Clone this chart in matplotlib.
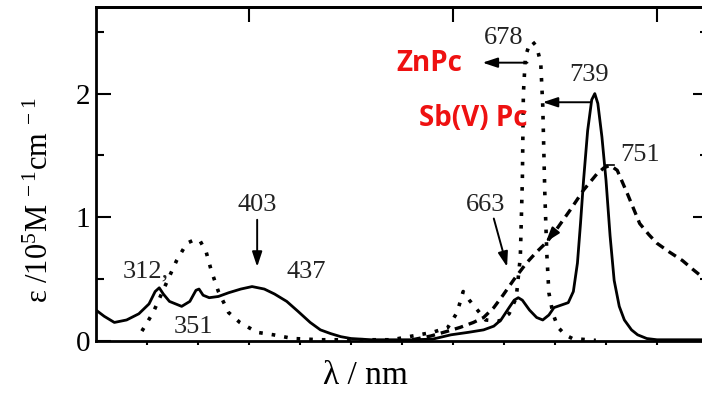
import matplotlib
matplotlib.use("Agg")
import matplotlib.pyplot as plt
import numpy as np

# ---- data ----
sb_wl = [250, 258, 268, 280, 292, 302, 308, 312, 316, 322, 334, 342, 348, 351, 355, 361,
         370, 380, 392, 403, 415, 425, 437, 448, 460, 470, 480, 490, 500, 520, 560, 580,
         598, 615, 630, 640, 647, 655, 660, 664, 668, 675, 682, 688, 694, 699, 706, 713,
         718, 722, 725, 728, 732, 736, 739, 742, 746, 750, 754, 758, 763, 768, 775, 781,
         790, 800, 850]
sb_eps = [0.25, 0.20, 0.15, 0.17, 0.22, 0.30, 0.40, 0.43, 0.38, 0.32, 0.28, 0.32, 0.41, 0.42, 0.37, 0.35,
          0.36, 0.39, 0.42, 0.44, 0.42, 0.38, 0.32, 0.24, 0.15, 0.09, 0.06, 0.035, 0.02, 0.01, 0.01, 0.015,
          0.05, 0.07, 0.09, 0.12, 0.17, 0.27, 0.33, 0.35, 0.33, 0.25, 0.19, 0.17, 0.21, 0.27, 0.29, 0.31,
          0.40, 0.63, 0.95, 1.30, 1.70, 1.95, 2.00, 1.92, 1.65, 1.30, 0.85, 0.49, 0.28, 0.17, 0.09, 0.05,
          0.02, 0.01, 0.01]

zn_wl = [295, 306, 318, 329, 339, 347, 352, 358, 363, 370, 380, 391, 408, 424, 443, 470, 540,
         560, 580, 595, 604, 610, 616, 622, 632, 645, 655, 662, 666, 668, 669, 671, 675, 678,
         682, 686, 688, 690, 692, 694, 698, 703, 710, 717, 740]
zn_eps = [0.08, 0.23, 0.45, 0.65, 0.79, 0.82, 0.81, 0.72, 0.57, 0.40, 0.23, 0.15, 0.07, 0.05, 0.02, 0.01, 0.01,
          0.04, 0.07, 0.11, 0.23, 0.40, 0.33, 0.27, 0.17, 0.16, 0.22, 0.35, 0.68, 1.3, 2.0, 2.3, 2.4, 2.42,
          2.38, 2.25, 1.9, 1.2, 0.7, 0.39, 0.22, 0.11, 0.05, 0.02, 0.005]

ag_wl = [560, 578, 595, 607, 620, 630, 640, 649, 660, 672, 682, 692, 703, 715, 728, 741, 748,
         754, 761, 771, 777, 783, 792, 800, 812, 825, 835, 850]
ag_eps = [0.01, 0.04, 0.08, 0.11, 0.15, 0.19, 0.27, 0.37, 0.50, 0.63, 0.72, 0.80, 0.92, 1.06, 1.22, 1.35, 1.40,
          1.42, 1.38, 1.19, 1.07, 0.95, 0.86, 0.79, 0.72, 0.65, 0.58, 0.48]

y_ticks = [0, 1, 2]
y_ticklabels = ["0", "1", "2"]

plt.rcParams['mathtext.fontset'] = 'custom'
plt.rcParams['mathtext.rm'] = 'Liberation Serif'
plt.rcParams['mathtext.it'] = 'Liberation Serif:italic'
serif = 'Liberation Serif'

W, H = 702, 394
fig = plt.figure(figsize=(W / 100, H / 100), dpi=100)
x0, x1 = 96, 708
ytop, ybot = 7, 341
ax = fig.add_axes([x0 / W, (H - ybot) / H, (x1 - x0) / W, (ybot - ytop) / H])

ax.plot(sb_wl, sb_eps, color='black', lw=2.0, solid_joinstyle='round')
ax.plot(zn_wl, zn_eps, color='black', lw=2.6, linestyle=(0, (1.0, 2.5)))
ax.plot(ag_wl, ag_eps, color='black', lw=2.4, linestyle=(0, (2.6, 1.8)))

ax.set_xlim(250, 850)
ax.set_ylim(0, 2.7)

for s in ax.spines.values():
    s.set_linewidth(2.0)

ax.set_yticks(y_ticks)
ax.set_yticklabels(y_ticklabels, fontfamily=serif, fontsize=21)
ax.set_yticks([0.5, 1.5, 2.5], minor=True)
ax.tick_params(axis='y', which='major', direction='in', length=11, width=1.5, pad=4,
               left=True, right=True)
ax.tick_params(axis='y', which='minor', direction='in', length=6, width=1.5,
               left=True, right=True)

ax.set_xticks(np.arange(300, 851, 50))
ax.set_xticklabels([])
ax.tick_params(axis='x', which='major', direction='out', length=3, width=1.5,
               bottom=True, top=False, labelbottom=False)
ax2 = ax.secondary_xaxis('top')
ax2.set_xticks([400, 600, 800])
ax2.set_xticklabels([])
ax2.tick_params(direction='in', length=11, width=1.5)
ax2.spines['top'].set_linewidth(2.0)

fs = 19
def lab(t, x, y):
    ax.text(x, y, t, fontfamily=serif, fontsize=fs, ha='center', va='center', color='#222222')

lab("312,", 299, 0.56)
lab("351", 346, 0.11)
lab("403", 408, 1.10)
lab("437", 456, 0.56)
lab("663", 632, 1.10)
lab("678", 650, 2.45)
lab("739", 733, 2.15)
lab("751", 783, 1.50)

arrow = dict(arrowstyle='-|>,head_length=0.9,head_width=0.3', color='black', lw=1.4,
             shrinkA=0, shrinkB=0)
ax.annotate("", xy=(408, 0.60), xytext=(408, 0.98), arrowprops=arrow)
ax.annotate("", xy=(653, 0.60), xytext=(640, 0.99), arrowprops=arrow)
ax.annotate("", xy=(629, 2.25), xytext=(673, 2.25), arrowprops=arrow)
ax.annotate("", xy=(688, 1.93), xytext=(735, 1.93), arrowprops=arrow)
ax.annotate("", xy=(691, 0.80), xytext=(697, 0.86), arrowprops=arrow)
ax.plot([750, 758], [1.42, 1.42], color='black', lw=1.2)

red_font = dict(fontfamily='Open Sans', fontweight='bold', fontsize=20, color='#ee1111',
                ha='center', va='center')
ax.text(577, 2.24, "ZnPc", **red_font)
ax.text(620, 1.80, "Sb(V) Pc", **red_font)

fig.text(40 / W, 1 - 200 / H, r"ε /10$^5$M$^{\ -1}$cm$^{\ -1}$", rotation=90,
         fontfamily=serif, fontsize=22, ha='center', va='center')
fig.text(365 / W, 1 - 376 / H, "λ / nm", fontfamily=serif, fontsize=24,
         ha='center', va='center')

fig.savefig("out.png", dpi=100)
